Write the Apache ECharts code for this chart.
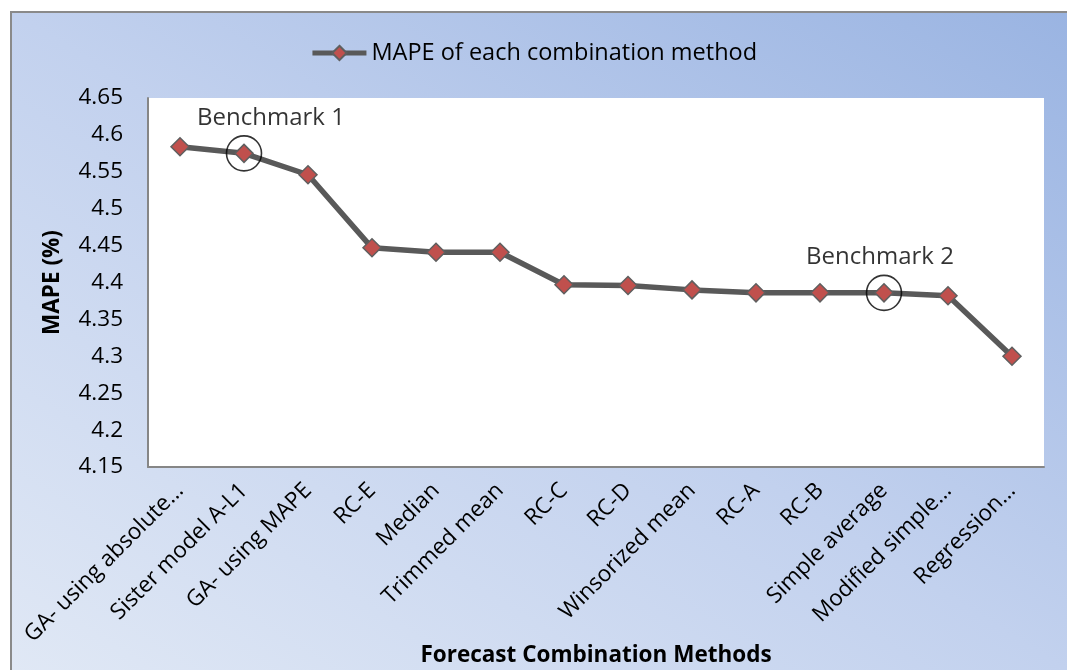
<!DOCTYPE html>
<html>
<head>
<meta charset="utf-8">
<script src="https://cdn.jsdelivr.net/npm/echarts@6/dist/echarts.min.js"></script>
<style>
  html, body { margin: 0; padding: 0; background: #fff; }
  #chart { width: 1067px; height: 670px; }
</style>
</head>
<body>
<div id="chart"></div>
<script>
// Forecast combination methods, ordered by MAPE
const methods = [
  'GA- using absolute...', 'Sister model A-L1', 'GA- using MAPE', 'RC-E', 'Median',
  'Trimmed mean', 'RC-C', 'RC-D', 'Winsorized mean', 'RC-A', 'RC-B',
  'Simple average', 'Modified simple...', 'Regression...'
];
// MAPE (%) for each method
const mapeValues = [
  4.584, 4.575, 4.546, 4.447, 4.441, 4.441, 4.397, 4.396, 4.390, 4.386, 4.386,
  4.386, 4.382, 4.300
];
// Highlighted reference methods
const benchmarkIndex = [1, 11];
const benchmarkNames = ['Benchmark 1', 'Benchmark 2'];
const benchmarkLabelShift = [[27, 0], [-4, 0]];
// Value axis ticks
const yMin = 4.15, yMax = 4.65, yStep = 0.05;

const seriesName = 'MAPE of each combination method';
const xTitle = 'Forecast Combination Methods';
const font = '"Open Sans", Lato, sans-serif';

const chart = echarts.init(document.getElementById('chart'), null, { renderer: 'canvas' });

chart.setOption({
  animation: false,
  backgroundColor: '#ffffff',
  graphic: [
    {
      type: 'rect',
      z: -10,
      silent: true,
      shape: { x: 11, y: 12, width: 1100, height: 720 },
      style: {
        // diagonal wash: light at lower left, deeper blue at upper right
        fill: {
          type: 'linear', global: true,
          x: 11, y: 670, x2: 602, y2: -278,
          colorStops: [
            { offset: 0, color: '#e0e8f5' },
            { offset: 0.5, color: '#c2d1ee' },
            { offset: 1, color: '#9ab4e2' }
          ]
        },
        stroke: '#8a8a8a',
        lineWidth: 2
      }
    },
    {
      // category axis title, centred under the plot area
      type: 'text',
      silent: true,
      x: 596,
      y: 656,
      style: {
        text: xTitle,
        fontFamily: font,
        fontSize: 22.5,
        fontWeight: 'bold',
        fill: '#000',
        align: 'center',
        verticalAlign: 'middle'
      }
    }
  ],
  legend: {
    data: [seriesName],
    top: 36,
    left: 'center',
    itemWidth: 54,
    itemHeight: 18,
    lineStyle: { width: 5, color: '#595959' },
    textStyle: { fontFamily: font, fontSize: 23.5, color: '#000' }
  },
  grid: {
    left: 148, top: 98, right: 23, bottom: 203,
    show: true,
    backgroundColor: '#ffffff',
    borderWidth: 0,
    containLabel: false,
    outerBoundsMode: 'none'
  },
  xAxis: {
    type: 'category',
    data: methods,
    boundaryGap: true,
    axisLine: { show: true, lineStyle: { color: '#868686', width: 2 } },
    axisTick: { show: false },
    axisLabel: {
      interval: 0,
      rotate: 45,
      margin: 20,
      fontFamily: font,
      fontSize: 22.5,
      color: '#000'
    },
    splitLine: { show: false }
  },
  yAxis: {
    type: 'value',
    min: yMin,
    max: yMax,
    interval: yStep,
    name: 'MAPE (%)',
    nameLocation: 'middle',
    nameRotate: 90,
    nameGap: 84,
    nameTextStyle: { fontFamily: font, fontSize: 22.5, fontWeight: 'bold', color: '#000' },
    axisLine: { show: true, lineStyle: { color: '#868686', width: 2 } },
    axisTick: { show: false },
    splitLine: { show: false },
    axisLabel: {
      margin: 25,
      fontFamily: font,
      fontSize: 22.5,
      color: '#000',
      formatter: v => String(parseFloat(v.toFixed(2)))
    }
  },
  series: [
    {
      name: seriesName,
      type: 'line',
      data: mapeValues,
      symbol: 'diamond',
      symbolSize: 18,
      lineStyle: { color: '#595959', width: 5.5 },
      itemStyle: { color: '#c0504d', borderColor: '#5f5f5f', borderWidth: 1.5 },
      z: 2
    },
    {
      name: 'benchmarks',
      type: 'scatter',
      symbol: 'circle',
      symbolSize: 35,
      itemStyle: { color: 'rgba(0,0,0,0)', borderColor: '#000', borderWidth: 1.6 },
      z: 3,
      data: benchmarkIndex.map((idx, k) => ({
        value: [idx, mapeValues[idx]],
        label: {
          show: true,
          position: 'top',
          distance: 5,
          offset: benchmarkLabelShift[k],
          formatter: benchmarkNames[k],
          fontFamily: font,
          fontSize: 24,
          color: '#000'
        }
      }))
    }
  ]
});
</script>
</body>
</html>
